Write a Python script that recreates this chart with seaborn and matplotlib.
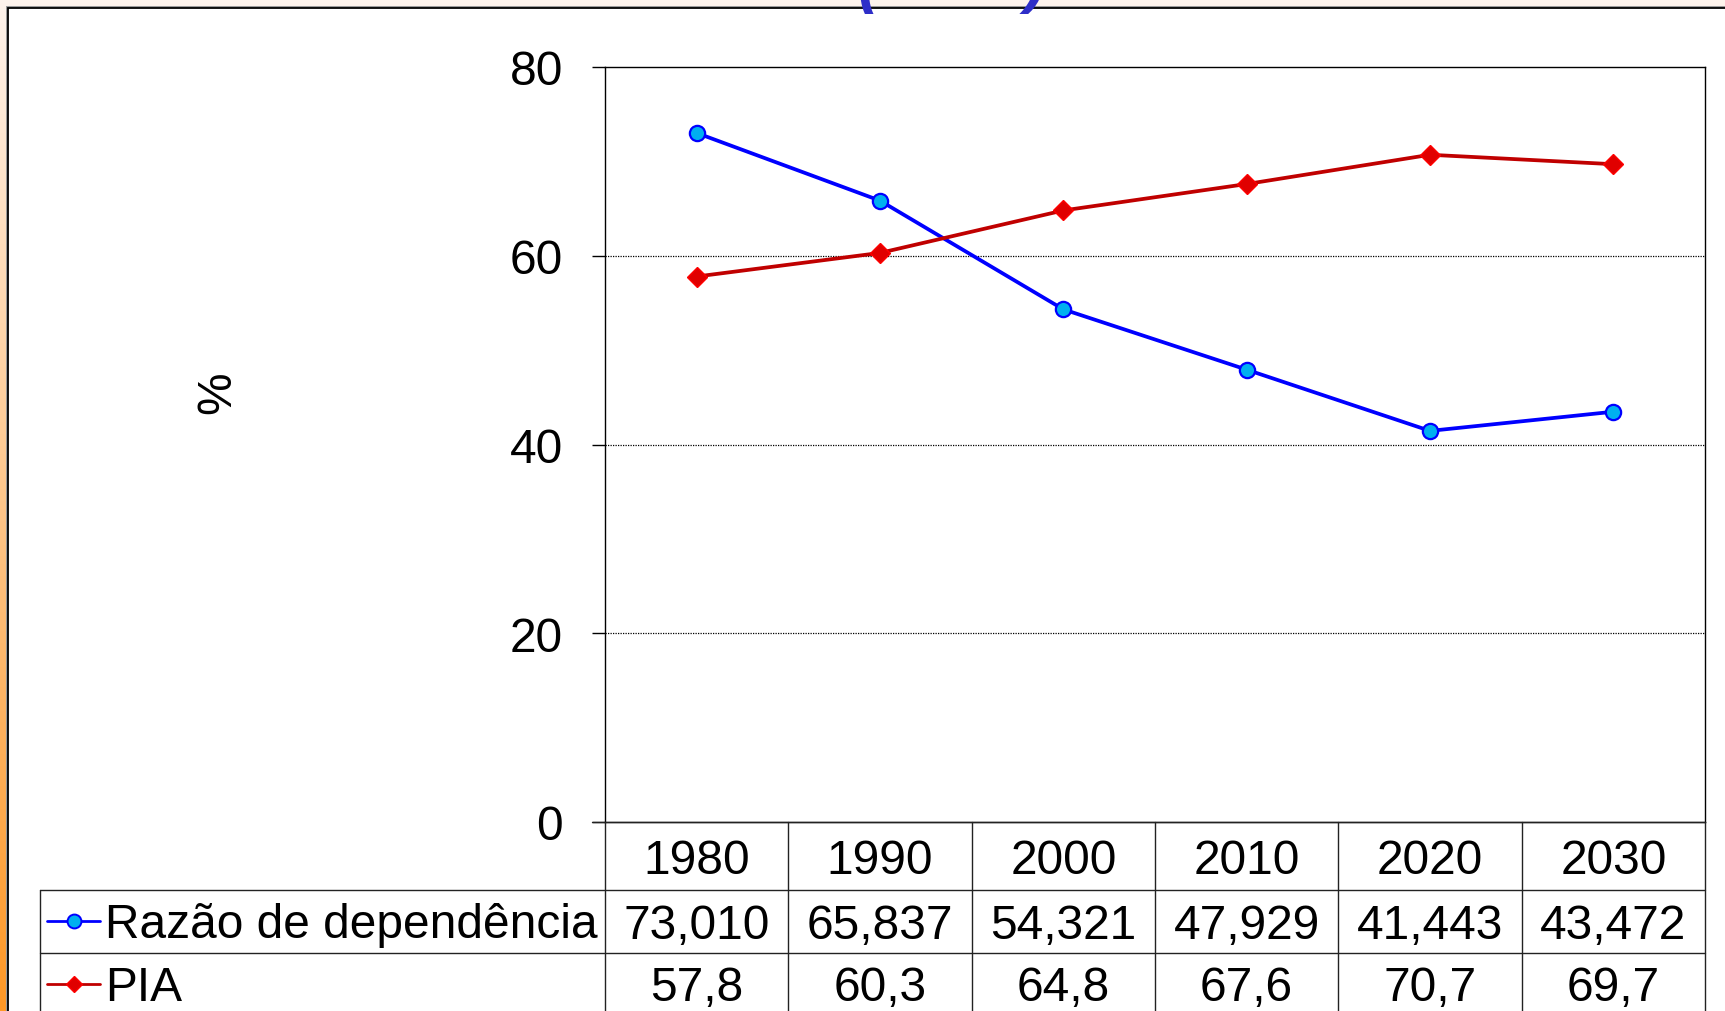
import matplotlib
matplotlib.use('Agg')
import matplotlib.pyplot as plt
from matplotlib.patches import Rectangle
import numpy as np
import pandas as pd
import seaborn as sns

anos = ['1980', '1990', '2000', '2010', '2020', '2030']
razao = [73.010, 65.837, 54.321, 47.929, 41.443, 43.472]
pia = [57.8, 60.3, 64.8, 67.6, 70.7, 69.7]
series = ['Razão de dependência', 'PIA']

sns.set_style('white')
plt.rcParams['font.family'] = ['Liberation Sans', 'DejaVu Sans']
plt.rcParams['text.color'] = 'black'
plt.rcParams['ytick.color'] = 'black'
plt.rcParams['ytick.labelcolor'] = 'black'

FS = 34.5
W, H = 1725, 1012
fig = plt.figure(figsize=(W / 100, H / 100), dpi=100)

# background gradient + white panel
bg = fig.add_axes([0, 0, 1, 1], zorder=-5)
top = np.array([253, 243, 236]) / 255
bot = np.array([255, 152, 38]) / 255
t = np.linspace(0, 1, 256)[:, None]
grad = (top * (1 - t) + bot * t)[:, None, :]
bg.imshow(grad, aspect='auto', extent=[0, W, H, 0])
bg.add_patch(Rectangle((6, 7), W, H, facecolor='#9a9a9a', edgecolor='none'))
bg.add_patch(Rectangle((8, 9), W, H, facecolor='white', edgecolor='black', linewidth=1.3))
bg.set_xlim(0, W)
bg.set_ylim(H, 0)
bg.axis('off')

# clipped title fragments (the title sits above the visible area)
fig.text(868 / W, 1 - 14 / H, '(', color='#2e2ec8', fontsize=46, fontweight='bold',
         ha='center', va='bottom', style='italic')
fig.text(1035 / W, 1 - 14 / H, ')', color='#2e2ec8', fontsize=46, fontweight='bold',
         ha='center', va='bottom', style='italic')

# main chart
ax_l, ax_r, ax_t, ax_b = 605, 1705, 68, 823
ax = fig.add_axes([ax_l / W, 1 - ax_b / H, (ax_r - ax_l) / W, (ax_b - ax_t) / H])
ax.set_facecolor('white')

pos = list(range(len(anos)))
df = pd.DataFrame({'pos': pos, 'razao': razao, 'pia': pia})

sns.lineplot(data=df, x='pos', y='razao', ax=ax, color='#0000ff', linewidth=2.7,
             marker='o', markersize=11, markerfacecolor='#00b0f0',
             markeredgecolor='#0000ff', markeredgewidth=1.6)
sns.lineplot(data=df, x='pos', y='pia', ax=ax, color='#c00000', linewidth=2.7,
             marker='D', markersize=10, markerfacecolor='#e00000',
             markeredgecolor='#ff0000', markeredgewidth=1)

ax.set_xlim(-0.5, len(anos) - 0.5)
ax.set_ylim(0, 80)
ax.set_yticks([0, 20, 40, 60, 80])
ax.set_xticks([])
ax.set_xlabel('')
ax.set_ylabel('')
for y in [20, 40, 60]:
    ax.axhline(y, color='black', linestyle=(0, (1, 1)), linewidth=0.9, zorder=0)
for s in ax.spines.values():
    s.set_visible(True)
    s.set_color('black')
    s.set_linewidth(1)
ax.tick_params(axis='y', direction='out', length=9.4, width=1, pad=21,
               labelsize=FS, left=True, color='black', labelcolor='black')

fig.text(218 / W, 1 - 393 / H, '%', rotation=90, fontsize=FS, ha='center', va='center')

# data table under the chart
ov = fig.add_axes([0, 0, 1, 1], zorder=5)
ov.set_xlim(0, W)
ov.set_ylim(H, 0)
ov.axis('off')
ov.patch.set_alpha(0)

colw = (ax_r - ax_l) / len(anos)
row_y = [823, 891, 954]
lc = '#222222'
ov.plot([592, ax_r], [823, 823], color=lc, lw=1)
for y in row_y[1:]:
    ov.plot([40, ax_r], [y, y], color=lc, lw=1)
ov.plot([40, 40], [row_y[1], H], color=lc, lw=1)
for i in range(len(anos) + 1):
    x = ax_l + i * colw
    ov.plot([x, x], [823, H], color=lc, lw=1)

for i, a in enumerate(anos):
    xc = ax_l + (i + 0.5) * colw
    ov.text(xc, 862, a, fontsize=FS, ha='center', va='center')
    ov.text(xc, 927, f'{razao[i]:.3f}'.replace('.', ','),
            fontsize=FS, ha='center', va='center')
    ov.text(xc, 989, f'{pia[i]:.1f}'.replace('.', ','),
            fontsize=FS, ha='center', va='center')

# legend keys in row labels
ov.plot([47, 100], [922, 922], color='#0000ff', lw=2)
ov.plot([74], [922], marker='o', markersize=10, markerfacecolor='#00b0f0',
        markeredgecolor='#0000ff', markeredgewidth=1.4)
ov.plot([47, 100], [985, 985], color='#c00000', lw=2)
ov.plot([74], [985], marker='D', markersize=8, markerfacecolor='#e00000',
        markeredgecolor='#ff0000')
ov.text(105, 926, series[0], fontsize=FS, ha='left', va='center')
ov.text(105, 989, series[1], fontsize=FS, ha='left', va='center')

fig.savefig('out.png', dpi=100)
